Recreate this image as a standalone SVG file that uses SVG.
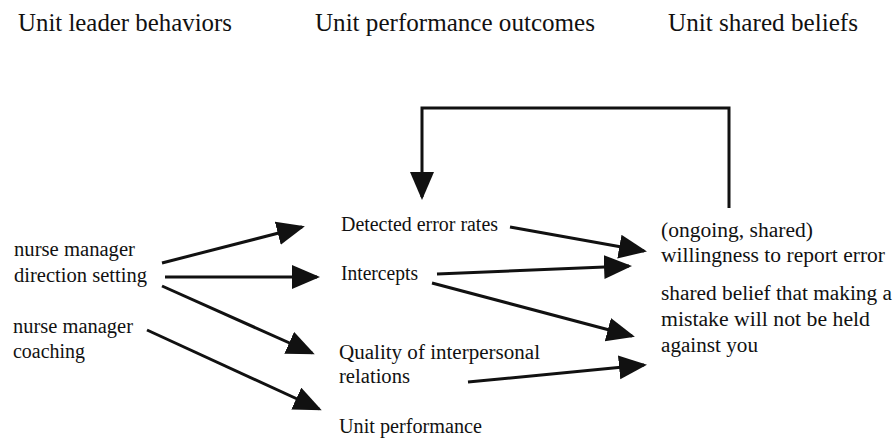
<svg xmlns="http://www.w3.org/2000/svg" width="896" height="439" viewBox="0 0 896 439">
<style>
  text { font-family: "Liberation Serif", "Times New Roman", serif; fill: #111111; }
  .hdr { font-size: 25px; }
  .lbl { font-size: 20.5px; }
  .conn { stroke: #111111; stroke-width: 3; fill: none; }
  .arrow { marker-end: url(#ah); }
</style>
<defs>
  <marker id="ah" markerUnits="userSpaceOnUse" markerWidth="30" markerHeight="26" refX="25" refY="12" orient="auto">
    <path d="M0,0 L28,12 L0,24 z" fill="#111111"/>
  </marker>
</defs>
<rect width="896" height="439" fill="#ffffff"/>

<g id="headers">
  <text class="hdr" x="18" y="31" textLength="214" lengthAdjust="spacingAndGlyphs">Unit leader behaviors</text>
  <text class="hdr" x="315" y="31" textLength="280" lengthAdjust="spacingAndGlyphs">Unit performance outcomes</text>
  <text class="hdr" x="668" y="31" textLength="190" lengthAdjust="spacingAndGlyphs">Unit shared beliefs</text>
</g>

<g id="node-direction">
  <text class="lbl" x="14" y="256" textLength="121" lengthAdjust="spacingAndGlyphs">nurse manager</text>
  <text class="lbl" x="14" y="282" textLength="133" lengthAdjust="spacingAndGlyphs">direction setting</text>
</g>
<g id="node-coaching">
  <text class="lbl" x="13" y="333" textLength="120" lengthAdjust="spacingAndGlyphs">nurse manager</text>
  <text class="lbl" x="13" y="358" textLength="72" lengthAdjust="spacingAndGlyphs">coaching</text>
</g>
<g id="node-detected">
  <text class="lbl" x="341" y="231" textLength="157" lengthAdjust="spacingAndGlyphs">Detected error rates</text>
</g>
<g id="node-intercepts">
  <text class="lbl" x="341" y="280" textLength="77" lengthAdjust="spacingAndGlyphs">Intercepts</text>
</g>
<g id="node-quality">
  <text class="lbl" x="339" y="359" textLength="201" lengthAdjust="spacingAndGlyphs">Quality of interpersonal</text>
  <text class="lbl" x="339" y="383" textLength="71" lengthAdjust="spacingAndGlyphs">relations</text>
</g>
<g id="node-performance">
  <text class="lbl" x="339" y="433" textLength="143" lengthAdjust="spacingAndGlyphs">Unit performance</text>
</g>
<g id="node-willingness">
  <text class="lbl" x="661" y="237" textLength="152" lengthAdjust="spacingAndGlyphs">(ongoing, shared)</text>
  <text class="lbl" x="661" y="262" textLength="224" lengthAdjust="spacingAndGlyphs">willingness to report error</text>
</g>
<g id="node-belief">
  <text class="lbl" x="661" y="300" textLength="231" lengthAdjust="spacingAndGlyphs">shared belief that making a</text>
  <text class="lbl" x="661" y="326" textLength="209" lengthAdjust="spacingAndGlyphs">mistake will not be held</text>
  <text class="lbl" x="661" y="352" textLength="97" lengthAdjust="spacingAndGlyphs">against you</text>
</g>

<g id="connectors">
  <path class="conn arrow" d="M162,263 L302,227"/>
  <path class="conn arrow" d="M165,277 L317,277"/>
  <path class="conn arrow" d="M162,286 L312,353"/>
  <path class="conn arrow" d="M147,330 L319,409"/>
  <path class="conn arrow" d="M510,227 L644,251"/>
  <path class="conn arrow" d="M437,274 L629,266"/>
  <path class="conn arrow" d="M432,283 L632,336"/>
  <path class="conn arrow" d="M468,382 L644,365"/>
  <path class="conn arrow" d="M729,208 L729,108 L422,108 L422,197"/>
</g>
</svg>
